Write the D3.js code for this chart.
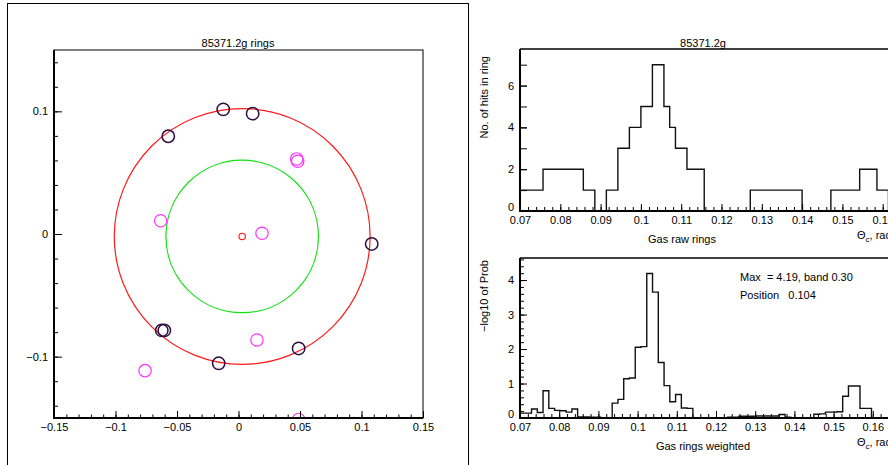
<!DOCTYPE html>
<html>
<head>
<meta charset="utf-8">
<script src="https://cdn.jsdelivr.net/npm/d3@7"></script>
<style>
  body { margin: 0; background: #fff; }
  text { font-family: "Liberation Sans", Arial, sans-serif; font-size: 11px; fill: #000; }
</style>
</head>
<body>
<svg id="chart" width="888" height="465"></svg>
<script>
// ---- datos del evento (anillos) ----
const ringTitle = "85371.2g rings";
const ringCenter = [0.003, -0.002];
const ringRadiusFit = 0.104;   // anillo rojo
const ringRadiusGas = 0.062;   // anillo verde
const hitsDark = [
  [-0.0124, 0.1016], [0.0115, 0.0981], [-0.0571, 0.0797], [0.1083, -0.0081],
  [0.0489, -0.0933], [-0.0161, -0.1054], [-0.0624, -0.0786], [-0.0603, -0.0786]
];
const hitsMagenta = [
  [0.0473, 0.0612], [0.0481, 0.0593], [-0.0633, 0.0108], [0.0191, 0.0006],
  [0.0150, -0.0864], [-0.0760, -0.1114], [0.0489, -0.1512]
];
const ringXTicks = [-0.15, -0.1, -0.05, 0, 0.05, 0.1, 0.15];
const ringYTicks = [-0.1, 0, 0.1];

// ---- histograma superior (cuentas por bin) ----
const rawTitle = "85371.2g";
const rawLabel = "Gas raw rings";
const rawStart = 0.07, rawBinWidth = 0.1 / 70;
const rawCounts = [
  1, 1, 1, 1, 2, 2, 2, 2, 2, 2, 2, 1, 1, 0, 0, 1, 1, 3, 3, 4,
  4, 5, 5, 7, 7, 5, 4, 3, 3, 2, 2, 2, 0, 0, 0, 0, 0, 0, 0, 0,
  1, 1, 1, 1, 1, 1, 1, 1, 1, 0, 0, 0, 0, 0, 1, 1, 1, 1, 1, 2,
  2, 2, 1, 1, 0, 0, 0, 0, 0, 0
];
const rawYTicks = [0, 2, 4, 6];
const thetaTicks = [0.07, 0.08, 0.09, 0.1, 0.11, 0.12, 0.13, 0.14, 0.15, 0.16];

// ---- histograma inferior (-log10 prob) ----
const wLabel = "Gas rings weighted";
const wStart = 0.07, wBinWidth = 0.00147;
const wValues = [
  0.14, 0.14, 0.26, 0.16, 0.79, 0.28, 0.22, 0.21, 0.17, 0.26,
  0.03, 0.03, 0.02, 0.02, 0.01, 0.01, 0.43, 0.54, 1.14, 1.16,
  2.05, 2.07, 4.19, 3.65, 1.61, 0.94, 0.47, 0.68, 0.29, 0.28,
  0.01, 0.01, 0.01, 0.01, 0.01, 0.01, 0.02, 0.02, 0.05, 0.05,
  0.05, 0.06, 0.06, 0.06, 0.06, 0.10, 0.02, 0.01, 0.01, 0.01,
  0.01, 0.11, 0.12, 0.17, 0.17, 0.18, 0.63, 0.93, 0.93, 0.28,
  0.28, 0, 0, 0, 0, 0, 0, 0, 0, 0
];
const wYTicks = [0, 1, 2, 3, 4];
const maxText = "Max  = 4.19, band 0.30";
const posText = "Position   0.104";

const svg = d3.select("#chart");
const fmt = d3.format("~g");

// funcion para ejes con ticks hacia adentro (estilo ROOT)
function ejeX(g, x, y0, majors, minors, lmaj, lmin, pad) {
  g.append("g").attr("transform", `translate(0,${y0})`)
    .call(d3.axisBottom(x).tickValues(minors).tickSize(-lmin).tickFormat(""))
  return g.append("g").attr("transform", `translate(0,${y0})`)
    .call(d3.axisBottom(x).tickValues(majors).tickSize(-lmaj).tickPadding(pad).tickFormat(fmt))
}
function ejeY(g, y, x0, majors, minors, lmaj, lmin, pad) {
  g.append("g").attr("transform", `translate(${x0},0)`)
    .call(d3.axisLeft(y).tickValues(minors).tickSize(-lmin).tickFormat(""))
  return g.append("g").attr("transform", `translate(${x0},0)`)
    .call(d3.axisLeft(y).tickValues(majors).tickSize(-lmaj).tickPadding(pad).tickFormat(fmt))
}

// =================== panel izquierdo ===================
svg.append("rect").attr("x", 7.5).attr("y", 3.5).attr("width", 461).attr("height", 480)
  .style("fill", "none").style("stroke", "#000")

const xr = d3.scaleLinear().domain([-0.15, 0.15]).range([54, 423]);
const yr = d3.scaleLinear().domain([-0.15, 0.15]).range([418, 50]);

svg.append("clipPath").attr("id", "clipRing").append("rect")
  .attr("x", 54).attr("y", 50).attr("width", 369).attr("height", 368)

const left = svg.append("g")
const marks = left.append("g").attr("clip-path", "url(#clipRing)")

marks.append("circle")
  .attr("cx", xr(ringCenter[0])).attr("cy", yr(ringCenter[1]))
  .attr("r", xr(ringRadiusFit) - xr(0))
  .style("fill", "none").style("stroke", "#ff1a1a").style("stroke-width", 1.2)
marks.append("circle")
  .attr("cx", xr(ringCenter[0])).attr("cy", yr(ringCenter[1]))
  .attr("r", xr(ringRadiusGas) - xr(0))
  .style("fill", "none").style("stroke", "#14e014").style("stroke-width", 1.2)
marks.append("circle")
  .attr("cx", xr(ringCenter[0])).attr("cy", yr(ringCenter[1]))
  .attr("r", 3.2)
  .style("fill", "none").style("stroke", "#ff1a1a").style("stroke-width", 1.2)

marks.selectAll(".mag").data(hitsMagenta).join("circle")
  .attr("cx", d => xr(d[0])).attr("cy", d => yr(d[1])).attr("r", 6.2)
  .style("fill", "none").style("stroke", "#ff33ff").style("stroke-width", 1.2)
marks.selectAll(".dark").data(hitsDark).join("circle")
  .attr("cx", d => xr(d[0])).attr("cy", d => yr(d[1])).attr("r", 6.2)
  .style("fill", "none").style("stroke", "#2e0d3e").style("stroke-width", 1.5)

// marco del grafico
left.append("rect").attr("x", 54).attr("y", 50).attr("width", 369).attr("height", 368)
  .style("fill", "none").style("stroke", "#000").style("stroke-width", 1)

ejeX(left, xr, 418, ringXTicks, d3.range(-15, 16).map(d => d / 100), 7, 3.5, 5)
ejeY(left, yr, 54, ringYTicks, d3.range(-7, 8).map(d => d / 50), 8, 4, 6)
left.append("line").attr("x1", 54).attr("x2", 54).attr("y1", 50).attr("y2", 419)
  .style("stroke", "#000").style("stroke-width", 2)
left.append("line").attr("x1", 53).attr("x2", 423).attr("y1", 418).attr("y2", 418)
  .style("stroke", "#000").style("stroke-width", 2)

left.append("text").attr("x", 238).attr("y", 47).attr("text-anchor", "middle").text(ringTitle)

// =================== histogramas ===================
function histo(cfg) {
  const g = svg.append("g")
  const x = d3.scaleLinear().domain([0.07, 0.17]).range([520, cfg.xRight]);
  const y = d3.scaleLinear().domain([0, cfg.yMax]).range([cfg.bottom, cfg.top]);
  const id = "clip" + cfg.name
  svg.append("clipPath").attr("id", id).append("rect")
    .attr("x", 520).attr("y", cfg.top).attr("width", 400).attr("height", cfg.bottom - cfg.top)

  const pts = cfg.values.map((v, i) => [cfg.start + i * cfg.width, v])
  pts.push([cfg.start + cfg.values.length * cfg.width, cfg.values[cfg.values.length - 1]])
  const linea = d3.line().x(d => x(d[0])).y(d => y(d[1])).curve(d3.curveStepAfter)
  g.append("path").attr("clip-path", `url(#${id})`).attr("d", linea(pts))
    .style("fill", "none").style("stroke", "#111").style("stroke-width", 1.4)

  // marco superior
  g.append("line").attr("x1", 520).attr("x2", 900).attr("y1", cfg.top).attr("y2", cfg.top)
    .style("stroke", "#000").style("stroke-width", 1.3)

  ejeX(g, x, cfg.bottom, thetaTicks, d3.range(35, 86).map(d => d / 500), 7, 4, 5)
  const ay = ejeY(g, y, 520, cfg.yTicks, cfg.yMinor, 7, cfg.minorLen, 6)
  // el "0" del eje y va un poco mas arriba, como en ROOT
  ay.selectAll(".tick text").filter(d => d === 0).attr("dy", "-0.05em")
  g.append("line").attr("x1", 520).attr("x2", 520).attr("y1", cfg.top).attr("y2", cfg.bottom + 1)
    .style("stroke", "#000").style("stroke-width", 2)
  g.append("line").attr("x1", 519).attr("x2", 900).attr("y1", cfg.bottom).attr("y2", cfg.bottom)
    .style("stroke", "#000").style("stroke-width", 2)

  g.append("text").attr("transform", `translate(${488},${cfg.yTitleEnd}) rotate(-90)`)
    .attr("text-anchor", "end").text(cfg.yTitle)
  const th = g.append("text").attr("x", 857).attr("y", cfg.bottom + 28)
  th.append("tspan").text("\u0398")
  th.append("tspan").attr("dy", 3).style("font-size", "8px").text("c")
  th.append("tspan").attr("dy", -3).text(", rad")
  g.append("text").attr("x", cfg.labelX).attr("y", cfg.bottom + 32)
    .attr("text-anchor", "middle").text(cfg.label)
  return g
}

const histArriba = histo({
  name: "raw", values: rawCounts, start: rawStart, width: rawBinWidth,
  top: 49, bottom: 211, yMax: 7.75, xRight: 923,
  yTicks: rawYTicks, yMinor: d3.range(0, 8), minorLen: 7,
  yTitle: "No. of hits in ring", yTitleEnd: 56, label: rawLabel, labelX: 682
})
histArriba.append("text").attr("x", 703).attr("y", 47).attr("text-anchor", "middle").text(rawTitle)

const histAbajo = histo({
  name: "w", values: wValues, start: wStart, width: wBinWidth,
  top: 258, bottom: 418, yMax: 4.64, xRight: 912,
  yTicks: wYTicks, yMinor: d3.range(0, 24).map(d => d / 5), minorLen: 4,
  yTitle: "\u2212log10 of Prob", yTitleEnd: 260, label: wLabel, labelX: 703
})
histAbajo.append("text").attr("x", 740).attr("y", 281).style("white-space", "pre").text(maxText)
histAbajo.append("text").attr("x", 740).attr("y", 299).style("white-space", "pre").text(posText)

svg.selectAll(".domain").remove()
svg.selectAll(".tick line").style("stroke", "#000")
svg.selectAll(".tick text").style("font-size", "11px").style("font-family", "Liberation Sans, Arial, sans-serif")
</script>
</body>
</html>
